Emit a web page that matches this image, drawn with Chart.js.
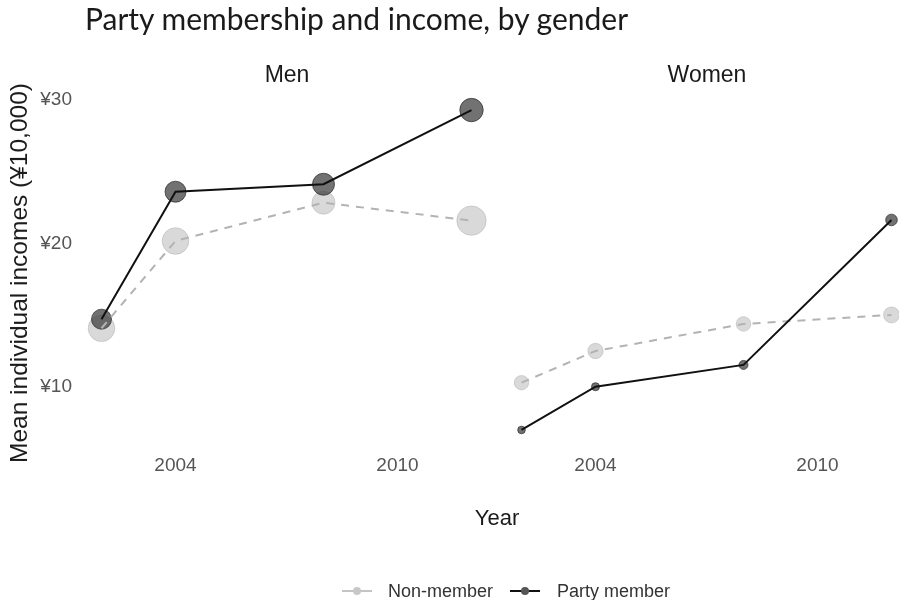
<!DOCTYPE html>
<html>
<head>
<meta charset="utf-8">
<title>Party membership and income, by gender</title>
<script src="https://cdn.jsdelivr.net/npm/chart.js@4.4.1/dist/chart.umd.min.js"></script>
<style>
    html, body {
        margin: 0;
        padding: 0;
        background: #fff;
        overflow: hidden;
    }
    #page {
        position: relative;
        width: 899px;
        height: 600px;
        overflow: hidden;
    }
    .chart-box {
        position: absolute;
        top: 0;
        height: 600px;
    }
    #title {
        position: absolute;
        left: 85px;
        top: 0px;
        font-family: Lato, sans-serif;
        font-size: 30px;
        color: #1a1a1a;
        white-space: nowrap;
    }
    .strip {
        position: absolute;
        top: 61px;
        font-family: 'Liberation Sans', Arial, sans-serif;
        font-size: 23px;
        color: #1a1a1a;
        transform: translateX(-50%);
        white-space: nowrap;
    }
    #ytitle {
        position: absolute;
        left: 19px;
        top: 273px;
        font-family: 'Liberation Sans', Arial, sans-serif;
        font-size: 24.5px;
        color: #1a1a1a;
        white-space: nowrap;
        transform: translate(-50%, -50%) rotate(-90deg);
    }
    #xtitle {
        position: absolute;
        left: 497px;
        top: 518px;
        font-family: 'Liberation Sans', Arial, sans-serif;
        font-size: 22px;
        color: #1a1a1a;
        transform: translate(-50%, -50%);
    }
    #legend {
        position: absolute;
        left: 342px;
        top: 579px;
        height: 24px;
        display: flex;
        align-items: center;
        font-family: 'Liberation Sans', Arial, sans-serif;
        font-size: 18px;
        color: #333;
        white-space: nowrap;
    }
    .key {
        position: relative;
        width: 30px;
        height: 24px;
        margin-right: 16px;
    }
    .key .ln {
        position: absolute;
        left: 0;
        right: 0;
        top: 11px;
        height: 2px;
    }
    .key .dot {
        position: absolute;
        left: 11px;
        top: 8px;
        width: 8px;
        height: 8px;
        border-radius: 50%;
    }
</style>
</head>
<body>
<div id="page">
    <div class="chart-box" style="left:0;width:496px"><canvas id="menChart"></canvas></div>
    <div class="chart-box" style="left:496px;width:420px"><canvas id="womenChart"></canvas></div>

    <div id="title">Party membership and income, by gender</div>
    <div class="strip" style="left:287px">Men</div>
    <div class="strip" style="left:707px">Women</div>
    <div id="ytitle">Mean individual incomes (¥10,000)</div>
    <div id="xtitle">Year</div>

    <div id="legend">
        <div class="key">
            <div class="ln" style="background:#c4c4c4"></div>
            <div class="dot" style="background:#c8c8c8"></div>
        </div>
        <span style="margin-right:17px">Non-member</span>
        <div class="key" style="margin-right:17px">
            <div class="ln" style="background:#111"></div>
            <div class="dot" style="background:#555"></div>
        </div>
        <span>Party member</span>
    </div>
</div>

<script>
// survey years and mean incomes (¥10,000)
const years = [2002, 2004, 2008, 2012];
const menNonMember = [14.07, 20.16, 22.83, 21.58];
const menPartyMember = [14.70, 23.60, 24.12, 29.30];
const womenNonMember = [10.27, 12.48, 14.37, 15.00];
const womenPartyMember = [6.97, 9.99, 11.51, 21.63];

// axis ticks
const tickYears = [2004, 2010];
const tickIncomes = [10, 20, 30];

// point sizes per group
const menNonRadius = [13.3, 13.3, 11.5, 14.7];
const menPartyRadius = [10, 10.5, 11, 11.7];
const womenNonRadius = [7.2, 7.7, 7.3, 8];
const womenPartyRadius = [3.8, 4, 4.5, 5.8];

const Y_MIN = 5.85;
const Y_MAX = 30.42;
const X_MIN = 2001.5;
const X_MAX = 2012.5;

const TICK_FONT = { family: "'Liberation Sans', Arial, sans-serif", size: 19 };

function toPoints(values) {
    return years.map((yr, i) => ({ x: yr, y: values[i] }));
}

// lines go on top of the points, so they are separate datasets
function groupDatasets(nonValues, partyValues, nonRadius, partyRadius) {
    return [
        {
            label: 'Non-member',
            data: toPoints(nonValues),
            showLine: false,
            pointRadius: nonRadius,
            pointBackgroundColor: 'rgba(185, 185, 185, 0.55)',
            pointBorderColor: 'rgba(170, 170, 170, 0.45)',
            pointBorderWidth: 1,
            clip: false,
            order: 3
        },
        {
            label: 'Party member',
            data: toPoints(partyValues),
            showLine: false,
            pointRadius: partyRadius,
            pointBackgroundColor: 'rgba(60, 60, 60, 0.72)',
            pointBorderColor: 'rgba(40, 40, 40, 0.7)',
            pointBorderWidth: 1,
            clip: false,
            order: 2
        },
        {
            label: 'Non-member line',
            data: toPoints(nonValues),
            showLine: true,
            borderColor: '#b3b3b3',
            borderWidth: 2,
            borderDash: [8, 7],
            pointRadius: 0,
            tension: 0,
            clip: false,
            order: 1
        },
        {
            label: 'Party member line',
            data: toPoints(partyValues),
            showLine: true,
            borderColor: '#111111',
            borderWidth: 2,
            pointRadius: 0,
            tension: 0,
            clip: false,
            order: 0
        }
    ];
}

function createPanel(canvasId, datasets, showY, padLeft, padRight) {
    const ctx = document.getElementById(canvasId);
    return new Chart(ctx, {
        type: 'scatter',
        data: { datasets: datasets },
        options: {
            responsive: true,
            maintainAspectRatio: false,
            animation: false,
            events: [],
            layout: {
                autoPadding: false,
                padding: { top: 94, bottom: 0, left: padLeft, right: padRight }
            },
            plugins: {
                legend: { display: false },
                tooltip: { enabled: false }
            },
            scales: {
                x: {
                    type: 'linear',
                    min: X_MIN,
                    max: X_MAX,
                    grid: { display: false, drawTicks: false },
                    border: { display: false },
                    afterBuildTicks: function(scale) {
                        scale.ticks = tickYears.map(v => ({ value: v }));
                    },
                    afterFit: function(scale) {
                        scale.height = 154;
                    },
                    ticks: {
                        color: '#555',
                        font: TICK_FONT,
                        padding: 8,
                        maxRotation: 0,
                        callback: v => String(v)
                    }
                },
                y: {
                    type: 'linear',
                    display: showY,
                    min: Y_MIN,
                    max: Y_MAX,
                    grid: { display: false, drawTicks: false },
                    border: { display: false },
                    afterBuildTicks: function(scale) {
                        scale.ticks = tickIncomes.map(v => ({ value: v }));
                    },
                    afterFit: function(scale) {
                        if (showY) scale.width = 83;
                    },
                    ticks: {
                        color: '#555',
                        font: TICK_FONT,
                        padding: 11,
                        callback: v => '¥' + v
                    }
                }
            }
        }
    });
}

document.addEventListener('DOMContentLoaded', function() {
    createPanel('menChart',
        groupDatasets(menNonMember, menPartyMember, menNonRadius, menPartyRadius),
        true, 0, 6);
    createPanel('womenChart',
        groupDatasets(womenNonMember, womenPartyMember, womenNonRadius, womenPartyRadius),
        false, 7, 6);
});
</script>
</body>
</html>
